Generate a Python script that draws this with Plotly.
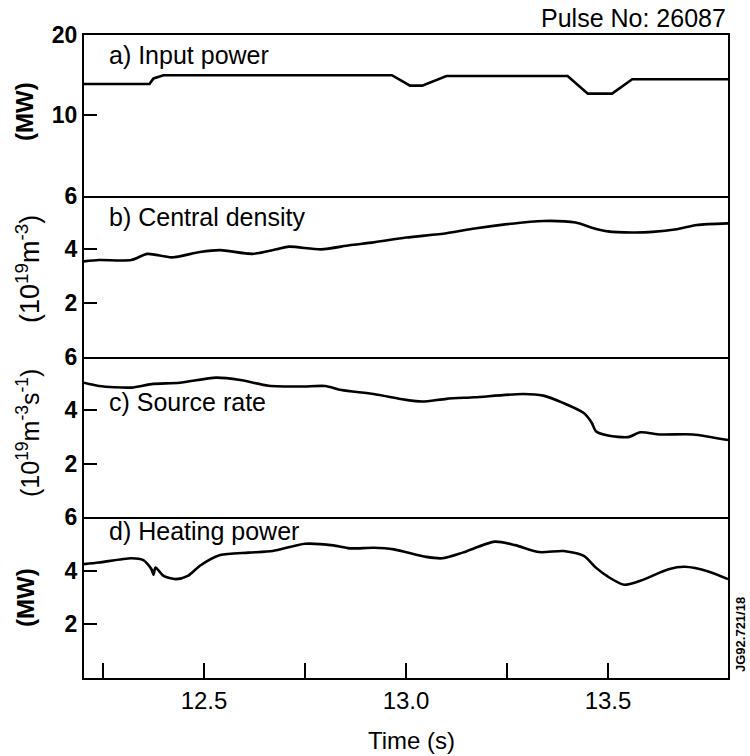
import plotly.graph_objects as go
from plotly.subplots import make_subplots

# ---------------- data ----------------
t_power = [12.203, 12.365, 12.375, 12.40, 12.965, 13.01, 13.04, 13.10, 13.40, 13.45, 13.51, 13.56, 13.797]
input_power = [13.9, 13.9, 14.6, 15.0, 15.0, 13.7, 13.7, 14.9, 14.9, 12.7, 12.7, 14.5, 14.5]

t_density = [12.203, 12.24, 12.32, 12.36, 12.42, 12.49, 12.54, 12.62, 12.68, 12.71, 12.79, 12.86,
             12.92, 13.00, 13.10, 13.17, 13.25, 13.34, 13.42, 13.46, 13.50, 13.56, 13.61, 13.67,
             13.72, 13.797]
central_density = [3.55, 3.6, 3.6, 3.83, 3.7, 3.9, 3.97, 3.83, 4.0, 4.1, 4.0, 4.15,
                   4.26, 4.44, 4.6, 4.78, 4.94, 5.06, 5.0, 4.81, 4.67, 4.63, 4.65, 4.75,
                   4.91, 4.97]

t_source = [12.203, 12.24, 12.32, 12.37, 12.44, 12.53, 12.59, 12.66, 12.74, 12.80, 12.84, 12.92,
            13.00, 13.04, 13.10, 13.17, 13.29, 13.34, 13.39, 13.44, 13.46, 13.47, 13.50, 13.55,
            13.58, 13.63, 13.71, 13.797]
source_rate = [5.02, 4.9, 4.84, 4.97, 5.02, 5.21, 5.12, 4.91, 4.88, 4.9, 4.75, 4.6,
               4.38, 4.32, 4.42, 4.48, 4.6, 4.54, 4.26, 3.89, 3.52, 3.21, 3.05, 2.99,
               3.17, 3.09, 3.09, 2.88]

t_heating = [12.203, 12.24, 12.32, 12.35, 12.37, 12.375, 12.38, 12.40, 12.43, 12.46, 12.49, 12.54,
             12.61, 12.67, 12.75, 12.82, 12.86, 12.92, 12.97, 13.05, 13.09, 13.14, 13.22, 13.27,
             13.33, 13.39, 13.44, 13.47, 13.50, 13.54, 13.58, 13.65, 13.69, 13.75, 13.797]
heating_power = [4.25, 4.31, 4.47, 4.4, 4.06, 3.85, 4.12, 3.81, 3.69, 3.81, 4.19, 4.59,
                 4.68, 4.74, 5.01, 4.95, 4.84, 4.86, 4.8, 4.52, 4.47, 4.68, 5.09, 4.96,
                 4.7, 4.74, 4.56, 4.12, 3.78, 3.48, 3.63, 4.06, 4.15, 3.97, 3.69]

x_tickvals = [12.25, 12.5, 12.75, 13.0, 13.25, 13.5]
x_ticktext = ["", "12.5", "", "13.0", "", "13.5"]

panel_labels = ["a) Input power", "b) Central density", "c) Source rate", "d) Heating power"]
y_titles = ["(MW)", "(10<sup>19</sup>m<sup>-3</sup>)", "(10<sup>19</sup>m<sup>-3</sup>s<sup>-1</sup>)", "(MW)"]
y_ranges = [[0, 20], [0, 6], [0, 6], [0, 6]]
y_tickvals = [[10, 20], [2, 4, 6], [2, 4, 6], [2, 4, 6]]

# ---------------- figure ----------------
W, H = 750, 756
L, R, T, B = 84, 22, 35, 78
pw, ph = W - L - R, H - T - B


def px_x(px):
    return (px - L) / pw


def px_y(py):
    return (H - B - py) / ph


FONT = "Liberation Sans, Arial, sans-serif"

fig = make_subplots(rows=4, cols=1, shared_xaxes=True, vertical_spacing=0)

series = [(t_power, input_power, "linear"), (t_density, central_density, "spline"),
          (t_source, source_rate, "spline"), (t_heating, heating_power, "spline")]
for i, (xs, ys, shp) in enumerate(series):
    line = dict(color="black", width=2.6, shape=shp)
    if shp == "spline":
        line["smoothing"] = 0.7
    fig.add_trace(go.Scatter(x=xs, y=ys, mode="lines", line=line,
                             showlegend=False, hoverinfo="skip"),
                  row=i + 1, col=1)

for i in range(4):
    fig.update_yaxes(range=y_ranges[i], tickvals=y_tickvals[i], ticks="inside",
                     ticklen=13, tickwidth=2, tickcolor="black",
                     showline=True, linecolor="black", linewidth=2, mirror=True,
                     showgrid=False, zeroline=False,
                     tickfont=dict(family=FONT, size=23, color="black", weight="bold"),
                     row=i + 1, col=1)
    last = (i == 3)
    fig.update_xaxes(range=[12.203, 13.797], showline=True, linecolor="black",
                     linewidth=2, mirror=(i == 0), showgrid=False, zeroline=False,
                     tickvals=x_tickvals, ticktext=x_ticktext,
                     ticks="inside" if last else "", ticklen=15, tickwidth=2,
                     tickcolor="black", showticklabels=last,
                     tickfont=dict(family=FONT, size=24, color="black"),
                     row=i + 1, col=1)

label_y = [55, 217, 402, 531]
title_y = [111, 269, 433, 597]
title_x = [25, 28, 28, 25]
title_size = [24, 27, 25, 24]
ann = []
for i in range(4):
    ann.append(dict(text=panel_labels[i], x=px_x(107), y=px_y(label_y[i]),
                    xref="paper", yref="paper", xanchor="left", yanchor="middle",
                    showarrow=False, font=dict(family=FONT, size=25, color="black")))
    ann.append(dict(text=y_titles[i], x=px_x(title_x[i]), y=px_y(title_y[i]),
                    xref="paper", yref="paper", xanchor="center", yanchor="middle",
                    textangle=-90, showarrow=False,
                    font=dict(family=FONT, size=title_size[i], color="black",
                              weight="bold" if i in (0, 3) else "normal")))

ann.append(dict(text="Pulse No: 26087", x=px_x(728), y=px_y(18), xref="paper", yref="paper",
                xanchor="right", yanchor="middle", showarrow=False,
                font=dict(family=FONT, size=25, color="black")))
ann.append(dict(text="Time (s)", x=px_x(411), y=px_y(740), xref="paper", yref="paper",
                xanchor="center", yanchor="middle", showarrow=False,
                font=dict(family=FONT, size=24, color="black")))
ann.append(dict(text="JG92.721/18", x=px_x(740), y=px_y(635), xref="paper", yref="paper",
                xanchor="center", yanchor="middle", textangle=-90, showarrow=False,
                font=dict(family=FONT, size=13, color="black", weight="bold")))

fig.update_layout(width=W, height=H, margin=dict(l=L, r=R, t=T, b=B, pad=0),
                  paper_bgcolor="white", plot_bgcolor="white",
                  annotations=ann, showlegend=False)

fig.write_html("out.html")
